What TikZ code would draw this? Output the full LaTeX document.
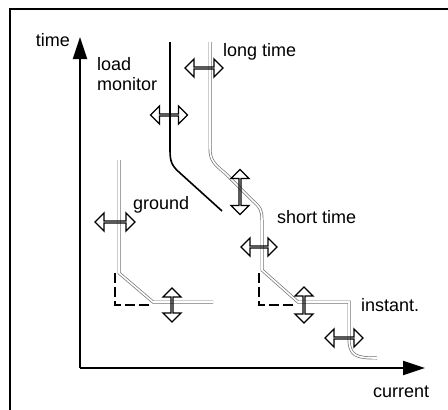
\documentclass[tikz,border=0pt]{standalone}
\usepackage{fontspec}
\setmainfont{Liberation Sans}
\usetikzlibrary{shapes.arrows,arrows.meta}
\begin{document}
\begin{tikzpicture}[x=1pt,y=-1pt,
  dblarrow/.style={double arrow, draw=black, line width=1.3pt,
    minimum height=#1, minimum width=18pt, double arrow head extend=5pt, inner sep=0pt},
  lbl/.style={font=\fontsize{18}{20}\selectfont, inner sep=0pt, anchor=west},
  axisline/.style={line width=2pt, -{Triangle[length=22pt,width=14pt]}},
  solidcurve/.style={line width=1.6pt, black},
  grycurve/.style={draw=black!55, line width=0.7pt, double=white, double distance=1.6pt},
  dashL/.style={line width=1.8pt, dash pattern=on 10pt off 4pt}
]
\useasboundingbox (0,0) rectangle (448,410);
% frame
\draw[line width=1.2pt] (10,410) -- (10,9) -- (448,9);
% axes
\coordinate (O) at (80,368);
\coordinate (ytip) at (80,37);
\coordinate (xtip) at (425,368);
\draw[axisline] (O) -- (ytip);
\draw[axisline] (O) -- (xtip);
\node[lbl, anchor=east] (tlab) at (70,40) {time};
\node[lbl] (clab) at (373,392) {current};
% load monitor
\draw[solidcurve] (170,42) -- (170,150) .. controls (170,162) and (172,166) .. (180,173) -- (222,211);
\node[lbl, align=left, anchor=north west] (lm) at (97,57) {load\\monitor};
% ground
\draw[grycurve] (119,160) -- (119,273) -- (153,302) -- (213,302);
\draw[dashL] (115,273) -- (115,305) -- (152,305);
\node[lbl] (gl) at (133,205) {ground};
% long time / short time / instantaneous
\draw[grycurve] (210,42) -- (210,148) .. controls (210,160) and (214,164) .. (225,173)
  -- (252,200) .. controls (260,207) and (262,210) .. (262,220) -- (262,270) -- (298,302)
  -- (349,302) -- (349,338) .. controls (349,356) and (356,358) .. (377,358);
\draw[dashL] (259,273) -- (259,305) -- (296,305);
\node[lbl] (ltl) at (223,52) {long time};
\node[lbl] (stl) at (277,217) {short time};
\node[lbl] (inl) at (361,305) {instant.};
% adjustment arrows
\node[dblarrow=37pt] (a1) at (169,115) {};
\node[dblarrow=38pt] (a2) at (204,68) {};
\node[dblarrow=45pt, rotate=90] (a3) at (240,192) {};
\node[dblarrow=36pt] (a4) at (259,247) {};
\node[dblarrow=36pt, rotate=90] (a5) at (304,305) {};
\node[dblarrow=38pt] (a6) at (344,338) {};
\node[dblarrow=40pt] (a7) at (115,222) {};
\node[dblarrow=34pt, rotate=90] (a8) at (172,305) {};
\end{tikzpicture}
\end{document}
